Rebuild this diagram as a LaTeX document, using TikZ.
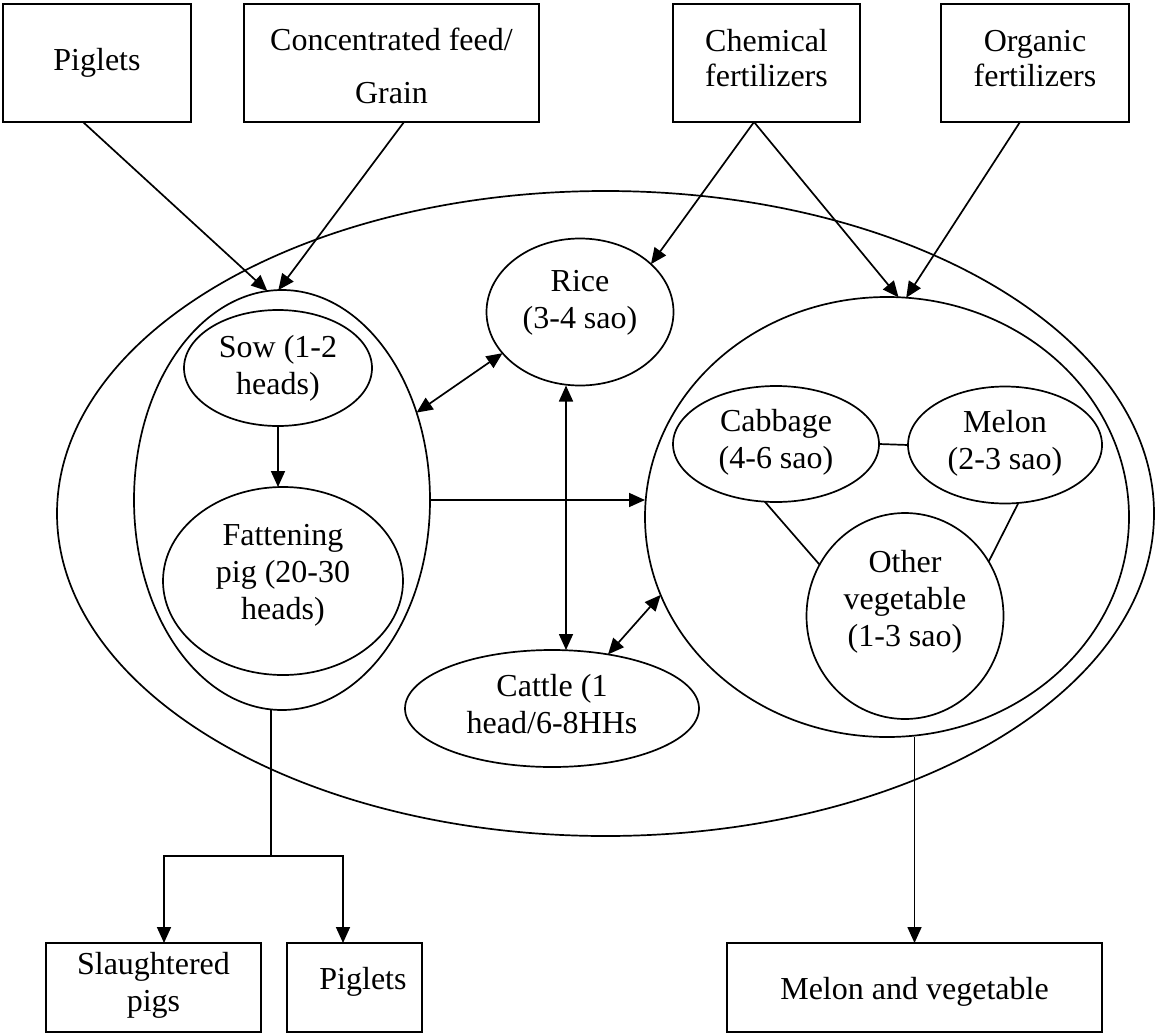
\documentclass[tikz,border=0pt]{standalone}
\usepackage{fontspec}
\setmainfont{Liberation Serif}
\usetikzlibrary{shapes.geometric,arrows.meta,calc}

% text block: [x offset]{baseline of first line above the node centre}{lines}
\newcommand{\txt}[3][0pt]{\makebox[0pt]{\hspace*{#1}\hspace*{#1}\raisebox{#2}[0pt][0pt]{\begin{tabular}[t]{@{}c@{}}#3\end{tabular}}}}

\tikzset{
  >={Triangle[length=16pt,width=14pt]},
  box/.style={draw, rectangle, inner sep=0pt, outer sep=0pt, line width=1.9pt},
  oval/.style={draw, ellipse, inner sep=0pt, outer sep=0pt},
  link/.style={line width=1.7pt},
}

\begin{document}
\begin{tikzpicture}[x=1pt, y=-1pt, line width=1.7pt, font=\fontsize{32}{37}\selectfont]
\useasboundingbox (0,0) rectangle (1158,1033);

% inputs
\node[box, minimum width=188pt, minimum height=118pt] (pigletsIn) at (97,63) {\txt{-8pt}{Piglets}};
\node[box, minimum width=295pt, minimum height=118pt] (feed) at (391.5,63) {\txt{12pt}{Concentrated feed/\\[15pt]Grain}};
\node[box, minimum width=187pt, minimum height=118pt] (chem) at (766.5,63) {\txt{11pt}{Chemical\\[-2pt]fertilizers}};
\node[box, minimum width=188pt, minimum height=118pt] (org) at (1035,63) {\txt{11pt}{Organic\\[-2pt]fertilizers}};

% farm system
\node[oval, minimum width=1097pt, minimum height=645pt] (farm) at (605.5,513.5) {};
\node[oval, minimum width=296pt, minimum height=420pt] (pigs) at (282,500) {};
\node[oval, minimum width=188pt, minimum height=116pt] (sow) at (278,368) {\txt{10.5pt}{Sow (1-2\\heads)}};
\node[oval, minimum width=240pt, minimum height=188pt] (fat) at (283,581) {\txt{36pt}{Fattening\\pig (20-30\\heads)}};
\node[oval, minimum width=187pt, minimum height=147pt] (rice) at (580,312) {\txt{21pt}{Rice\\(3-4 sao)}};
\node[oval, minimum width=294pt, minimum height=117pt] (cattle) at (552,708.5) {\txt{12pt}{Cattle (1\\head/6-8HHs}};
\node[oval, minimum width=484pt, minimum height=440pt] (veg) at (887,517) {};
\node[oval, minimum width=206pt, minimum height=116pt] (cab) at (776,444) {\txt{12.5pt}{Cabbage\\(4-6 sao)}};
\node[oval, minimum width=194pt, minimum height=117pt] (melon) at (1005,445) {\txt{12.5pt}{Melon\\(2-3 sao)}};
\node[oval, minimum width=197pt, minimum height=206pt] (other) at (905,616) {\txt{44pt}{Other\\vegetable\\(1-3 sao)}};

% outputs
\node[box, minimum width=215pt, minimum height=89pt] (slaughter) at (153.5,987.5) {\txt{13.5pt}{Slaughtered\\pigs}};
\node[box, minimum width=135pt, minimum height=89pt] (pigletsOut) at (354.5,987.5) {\txt[8.5pt]{-1.5pt}{Piglets}};
\node[box, minimum width=375pt, minimum height=89pt] (mv) at (914.5,987.5) {\txt{-11.5pt}{Melon and vegetable}};

\coordinate (split) at (271,856);

% flows into the farm
\draw[link,->] ([xshift=-14pt]pigletsIn.south) -- (pigs.94);
\draw[link,->] ([xshift=12.5pt]feed.south) -- (pigs.91);
\draw[link,->] ([xshift=-12.5pt]chem.south) -- (rice.34);
\draw[link,->] ([xshift=-12.5pt]chem.south) -- (veg.87);
\draw[link,->] ([xshift=-15pt]org.south) -- (veg.85);

% flows inside the farm
\draw[link,->] (sow.south) -- (sow.south |- fat.north);
\draw[link,<->] (pigs.33) -- (rice.208);
\draw[link,->] (pigs.east) -- (pigs.east -| veg.west);
\draw[link,<->] ([xshift=-14pt]rice.south) -- ([xshift=14pt]cattle.north);
\draw[link,<->] (cattle.44) -- (veg.199);
\draw[link] (cab.east) -- (melon.west);
\draw[link] (cab.259) -- (other.149);
\draw[link] (melon.283) -- (other.33);

% flows out of the farm
\draw[link] (split |- pigs.south) -- (split);
\draw[link,->] (split) -| ([xshift=10.5pt]slaughter.north);
\draw[link,->] (split) -| ([xshift=-11.5pt]pigletsOut.north);
\draw[link,->] (mv.north |- veg.south) -- (mv.north);
\end{tikzpicture}
\end{document}
